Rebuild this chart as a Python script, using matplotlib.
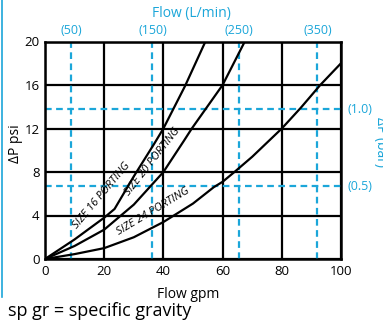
import numpy as np
import matplotlib
matplotlib.use('Agg')
import matplotlib.pyplot as plt
from matplotlib.lines import Line2D

plt.rcParams['font.family'] = ['Open Sans', 'DejaVu Sans']

# curve data (gpm, psi)
size16_x = [0, 10, 20, 23.5, 30, 36.9, 40, 47.3, 54.2]
size16_y = [0, 1.8, 3.8, 4.6, 7.6, 10.6, 12.0, 15.9, 20]

size20_x = [0, 10, 20, 30, 40, 47, 49.6, 60, 67.5]
size20_y = [0, 1.2, 2.7, 5.0, 8.0, 10.9, 12.0, 16.0, 20]

size24_x = [0, 10, 20, 30, 40, 50, 57, 60, 64, 70, 80, 86.4, 93, 100]
size24_y = [0, 0.45, 1.0, 2.0, 3.4, 5.1, 6.6, 7.1, 8.0, 9.4, 12.0, 13.9, 16.0, 18.0]

# secondary scale reference lines
lpm_pos = [8.8, 36.3, 65.4, 92.0]
lpm_labels = ['(50)', '(150)', '(250)', '(350)']
bar_pos = [6.7, 13.75]
bar_labels = ['(0.5)', '(1.0)']

xticks = [0, 20, 40, 60, 80, 100]
yticks = [0, 4, 8, 12, 16, 20]

blue = '#1ba6d9'

fig = plt.figure(figsize=(3.83, 3.26), dpi=100)
ax = fig.add_axes([45/383, 1 - 259/326, 296/383, 217.5/326])
ax.set_xlim(0, 100)
ax.set_ylim(0, 20)
ax.set_xticks(xticks)
ax.set_yticks(yticks)
ax.tick_params(length=0, labelsize=9.5, pad=4)
ax.grid(True, color='black', linewidth=1.6)
for s in ax.spines.values():
    s.set_linewidth(1.8)

for x in lpm_pos:
    ax.axvline(x, color=blue, linewidth=1.6, linestyle=(0, (3, 2)))
for y in bar_pos:
    ax.axhline(y, color=blue, linewidth=1.6, linestyle=(0, (3, 2)))

ax.plot(size16_x, size16_y, color='black', linewidth=1.6)
ax.plot(size20_x, size20_y, color='black', linewidth=1.6)
ax.plot(size24_x, size24_y, color='black', linewidth=1.6)

ax.text(19.0, 5.8, 'SIZE 16 PORTING', rotation=50, rotation_mode='anchor',
        ha='center', va='center', fontsize=8, style='italic')
ax.text(36.4, 8.95, 'SIZE 20 PORTING', rotation=52, rotation_mode='anchor',
        ha='center', va='center', fontsize=8, style='italic')
ax.text(36.4, 4.35, 'SIZE 24 PORTING', rotation=31, rotation_mode='anchor',
        ha='center', va='center', fontsize=8, style='italic')

for x, lab in zip(lpm_pos, lpm_labels):
    ax.text(x, 1.05, lab, transform=ax.get_xaxis_transform(), color=blue,
            ha='center', va='center', fontsize=9)
for y, lab in zip(bar_pos, bar_labels):
    ax.text(1.065, y, lab, transform=ax.get_yaxis_transform(), color=blue,
            ha='center', va='center', fontsize=9)

ax.set_xlabel('Flow gpm', fontsize=10, labelpad=0)
ax.xaxis.set_label_coords((188 - 45) / 296, -(287 - 259) / 217.5)
ax.set_ylabel('\u0394P psi', fontsize=10)
ax.yaxis.set_label_coords(-(45 - 23) / 296, (259 - 144) / 217.5)
fig.text(191/383, 1 - 13/326, 'Flow (L/min)', color=blue, ha='center',
         va='center', fontsize=10)
fig.text(381/383, 1 - 142/326, '\u0394P (bar)', color=blue, ha='center',
         va='center', fontsize=10, rotation=-90)
fig.text(8/383, 1 - 311/326, 'sp gr = specific gravity', ha='left',
         va='center', fontsize=13)
fig.add_artist(Line2D([2/383, 2/383], [1 - 297/326, 1], color=blue,
                      linewidth=1.2, transform=fig.transFigure))

fig.savefig('out.png', dpi=100)
